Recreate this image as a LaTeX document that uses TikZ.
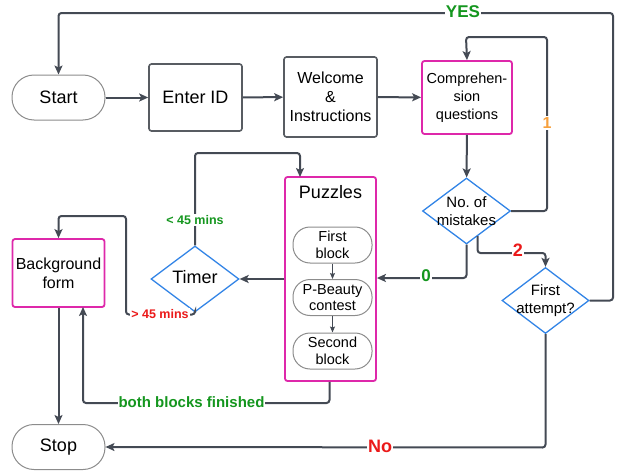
\documentclass[tikz,border=0pt]{standalone}
\usepackage{fontspec}
\setmainfont{Liberation Sans}
\usetikzlibrary{shapes.geometric,arrows.meta,calc}

\definecolor{linegray}{RGB}{68,74,84}
\definecolor{boxgray}{RGB}{88,92,98}
\definecolor{softgray}{RGB}{140,140,140}
\definecolor{boxmag}{RGB}{222,40,170}
\definecolor{diablue}{RGB}{50,132,230}
\definecolor{okgreen}{RGB}{20,150,30}
\definecolor{badred}{RGB}{235,25,25}
\definecolor{oneorange}{RGB}{247,160,60}

\tikzset{
  fs/.style={font=\fontsize{#1}{20}\selectfont},
  arr/.style={draw=linegray, line width=2pt, rounded corners=3pt,
    -{Stealth[length=9pt,width=8pt,inset=2pt]}},
  thinarr/.style={draw=linegray, line width=1pt,
    -{Stealth[length=6pt,width=5pt,inset=1pt]}},
  stadium/.style={draw=softgray, line width=1pt, rounded corners=22pt,
    minimum width=93pt, minimum height=45pt, inner sep=0pt, fs=18},
  smallstadium/.style={draw=softgray, line width=1pt, rounded corners=17pt,
    minimum width=79pt, minimum height=36pt, inner sep=0pt, align=center,
    font=\fontsize{14.5}{16.5}\selectfont},
  graybox/.style={draw=boxgray, line width=1.6pt, rounded corners=2.5pt,
    inner sep=0pt, align=center},
  magbox/.style={draw=boxmag, line width=1.8pt, rounded corners=2.5pt,
    inner sep=0pt, align=center},
  diam/.style={draw=diablue, line width=1.3pt, diamond, inner sep=0pt,
    minimum width=#1, minimum height=66pt},
  difftext/.style={align=center, inner sep=0pt},
  lbl/.style={fill=white, inner sep=1pt, font=\bfseries\fontsize{#1}{20}\selectfont},
}

\begin{document}
\begin{tikzpicture}[x=1pt,y=-1pt]
\useasboundingbox (0,0) rectangle (619,471);

% main steps along the top row
\node[stadium] (start) at (58.5,97.5) {Start};
\node[graybox, minimum width=93pt, minimum height=67pt, fs=18] (enter) at (195.5,97.5) {Enter ID};
\node[graybox, minimum width=93pt, minimum height=80pt,
      font=\fontsize{16}{19}\selectfont] (welcome) at (330.5,97) {Welcome\\\&\\Instructions};
\node[magbox, minimum width=90pt, minimum height=73pt,
      font=\fontsize{14.5}{18}\selectfont] (comp) at (467,97.5) {Comprehen-\\sion\\questions};

% decisions
\node[diam=88pt] (nm) at (466.5,211) {};
\node[difftext, font=\fontsize{15}{18}\selectfont] (nmtext) at (466.5,211) {No.\ of\\mistakes};
\node[diam=87pt] (fa) at (545.5,300.5) {};
\node[difftext, font=\fontsize{15}{18}\selectfont] (fatext) at (545.5,300.5) {First\\attempt?};
\node[diam=88pt] (timer) at (195,279) {};
\node[difftext, fs=18] (timertext) at (195,277) {Timer};

% puzzle block with its three stages
\node[magbox, minimum width=91pt, minimum height=204pt] (puz) at (330.5,279) {};
\node[inner sep=0pt, fs=18] (puztitle) at (330.5,192) {Puzzles};
\node[smallstadium] (fb) at (332.5,245) {First\\block};
\node[smallstadium] (pb) at (332.5,297.5) {P-Beauty\\contest};
\node[smallstadium] (sb) at (332.5,351) {Second\\block};
\draw[thinarr] (fb) -- (pb);
\draw[thinarr] (pb) -- (sb);

% questionnaire and end
\node[magbox, minimum width=92pt, minimum height=68pt,
      font=\fontsize{16}{19}\selectfont] (bg) at (58.5,273) {Background\\form};
\node[stadium] (stop) at (58.5,447) {Stop};

% connectors of the top row
\draw[arr] (start) -- (enter);
\draw[arr] (enter) -- (welcome);
\draw[arr] (welcome) -- (comp);
\draw[arr] (comp) -- (nm);

% outcomes of the comprehension check
\draw[arr] (nm.east) -- (547,211) -- (547,37) -- (466,37) -- (comp.north);
\node[lbl=16, text=oneorange] (lone) at (547,123) {1};
\draw[arr] ($(nm.south)!0.25!(nm.east)$) -- (477.5,253) -- (545.5,253) -- (fa.north);
\node[lbl=18, text=badred] (ltwo) at (518,250) {2};
\draw[arr] (nm.south) -- (466.5,278) -- (puz.east |- 0,278);
\node[lbl=17, text=okgreen] (lzero) at (426,276) {0};

\draw[arr] (fa.east) -- (613,300.5) -- (613,13) -- (58.5,13) -- (start.north);
\node[lbl=17, text=okgreen] (lyes) at (463,12) {YES};
\draw[arr] (fa.south) -- (545.5,447.5) -- (stop.east);
\node[lbl=18, text=badred] (lno) at (380,446) {No};

% timer loop
\draw[arr] (puz.west) -- (timer.east);
\draw[arr] (timer.north) -- (195,153) -- (300,153) -- (300,177);
\node[lbl=12.5, text=okgreen] (lless) at (195,220) {< 45 mins};
\draw[arr] (timer.south) -- (195,314.5) -- (126,314.5) -- (126,216) -- (58.5,216) -- (bg.north);
\node[lbl=12.5, text=badred] (lmore) at (160,314) {> 45 mins};

% leaving the puzzles
\draw[arr] (puz.south -| 329.5,0) -- (329.5,403) -- (83,403) -- (83,307);
\node[lbl=15, text=okgreen] (lboth) at (191.5,402) {both blocks finished};
\draw[arr] (bg.south) -- (stop.north);
\end{tikzpicture}
\end{document}
